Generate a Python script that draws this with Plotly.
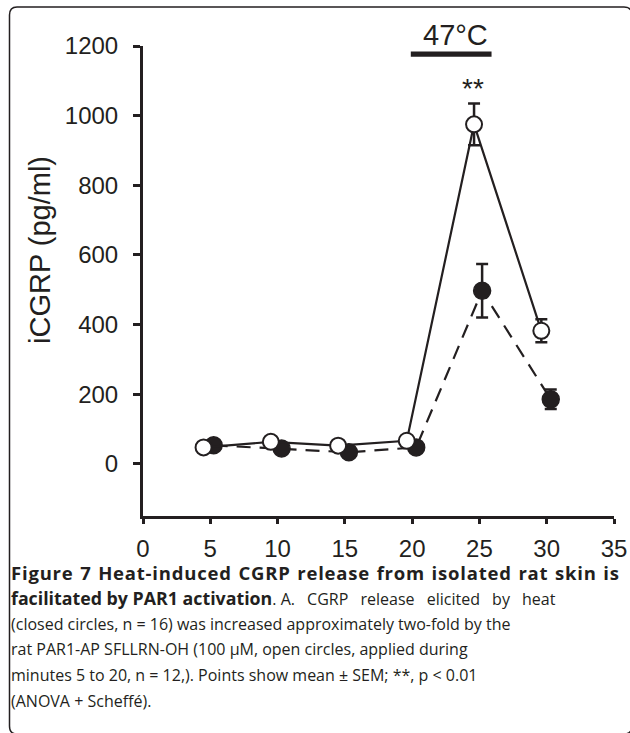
import plotly.graph_objects as go

# Data (minutes, pg/ml)
closed_x = [5.25, 10.3, 15.3, 20.3, 25.2, 30.3]
closed_y = [53, 44, 33, 47, 497, 185]
closed_sem = [8, 8, 8, 8, 77, 28]

open_x = [4.5, 9.5, 14.5, 19.6, 24.6, 29.6]
open_y = [47, 63, 52, 66, 975, 382]
open_sem = [6, 6, 6, 6, 60, 33]

x_ticks = [0, 5, 10, 15, 20, 25, 30, 35]
y_ticks = [0, 200, 400, 600, 800, 1000, 1200]
heat_period = [20, 26]

W, H = 630, 733
L, R, T, B = 143, 16, 46, 217
PW, PH = W - L - R, H - T - B

def px(x):
    return (x - L) / PW

def py(y):
    return (H - B - y) / PH

INK = "#231f20"
AX_FONT = "Liberation Sans, Arial, sans-serif"

fig = go.Figure()

fig.add_trace(go.Scatter(
    x=closed_x, y=closed_y, mode="lines+markers",
    line=dict(color=INK, width=2.2, dash="14px,9px"),
    marker=dict(symbol="circle", size=17, color=INK, line=dict(color=INK, width=1.5)),
    error_y=dict(type="data", array=closed_sem, color=INK, thickness=2.5, width=6),
    showlegend=False, cliponaxis=False,
))
fig.add_trace(go.Scatter(
    x=open_x, y=open_y, mode="lines+markers",
    line=dict(color=INK, width=2.2),
    marker=dict(symbol="circle", size=16, color="white", line=dict(color=INK, width=2)),
    error_y=dict(type="data", array=open_sem, color=INK, thickness=2.5, width=6),
    showlegend=False, cliponaxis=False,
))

fig.update_xaxes(
    range=[0, 35], tickvals=x_ticks, ticktext=[str(v) for v in x_ticks],
    showgrid=False, zeroline=False, showline=True, linecolor=INK, linewidth=3,
    ticks="outside", ticklen=5, tickwidth=3, tickcolor=INK, automargin=False,
    tickfont=dict(family=AX_FONT, size=24, color=INK), ticklabelstandoff=4,
)
fig.update_yaxes(
    range=[-150, 1200], tickvals=y_ticks, ticktext=[str(v) for v in y_ticks],
    showgrid=False, zeroline=False, showline=True, linecolor=INK, linewidth=3,
    ticks="outside", ticklen=7, tickwidth=3, tickcolor=INK, automargin=False,
    tickfont=dict(family=AX_FONT, size=24, color=INK), ticklabelstandoff=10,
)

shapes = [
    dict(type="rect", xref="x", yref="paper", x0=heat_period[0] - 0.1, x1=heat_period[1] - 0.1,
         y0=py(56.7), y1=py(51.5), fillcolor=INK, line=dict(width=0)),
    # rounded frame
    dict(type="path", xref="paper", yref="paper",
         path=(f"M {px(9.5)} {py(15)} Q {px(9.5)} {py(7)} {px(17)} {py(7)} "
               f"L {px(624)} {py(7)} Q {px(632)} {py(7)} {px(632)} {py(15)} "
               f"L {px(632)} {py(726)} Q {px(632)} {py(734)} {px(624)} {py(734)} "
               f"L {px(17)} {py(734)} Q {px(9.5)} {py(734)} {px(9.5)} {py(726)} Z"),
         line=dict(color=INK, width=1.5), fillcolor="rgba(0,0,0,0)"),
]

annotations = [
    dict(text="iCGRP (pg/ml)", xref="paper", yref="paper", x=px(40), y=py(250),
         textangle=-90, showarrow=False, font=dict(family=AX_FONT, size=29, color=INK),
         xanchor="center", yanchor="middle"),
    dict(text="47°C", xref="paper", yref="paper", x=px(455), y=py(35),
         showarrow=False, font=dict(family=AX_FONT, size=29, color=INK),
         xanchor="center", yanchor="middle"),
    dict(text="**", xref="paper", yref="paper", x=px(473), y=py(88),
         showarrow=False, font=dict(family=AX_FONT, size=28, color=INK),
         xanchor="center", yanchor="middle"),
]

caption = [
    "<span style='font-size:18.5px;letter-spacing:0.8px;word-spacing:1px'><b>Figure 7 Heat-induced CGRP release from isolated rat skin is</b></span>",
    "<span style='font-size:17.8px'><b>facilitated by PAR1 activation</b></span>. "
    "<span style='word-spacing:8px'>A. CGRP release elicited by heat</span>",
    "(closed circles, n = 16) was increased approximately two-fold by the",
    "rat PAR1-AP SFLLRN-OH (100 µM, open circles, applied during",
    "minutes 5 to 20, n = 12,). Points show mean ± SEM; **, p < 0.01",
    "(ANOVA + Scheffé).",
]
base0 = 572
for i, line in enumerate(caption):
    annotations.append(dict(
        text=line, xref="paper", yref="paper", x=px(9), y=py(base0 + 25.8 * i),
        showarrow=False, xanchor="left", yanchor="middle", align="left",
        font=dict(family="Open Sans, Noto Sans, sans-serif", size=16, color="#231f20"),
    ))

fig.update_layout(
    width=W, height=H, margin=dict(l=L, r=R, t=T, b=B, autoexpand=False),
    autosize=False,
    plot_bgcolor="white", paper_bgcolor="white",
    shapes=shapes, annotations=annotations,
)

fig.write_html("out.html")
